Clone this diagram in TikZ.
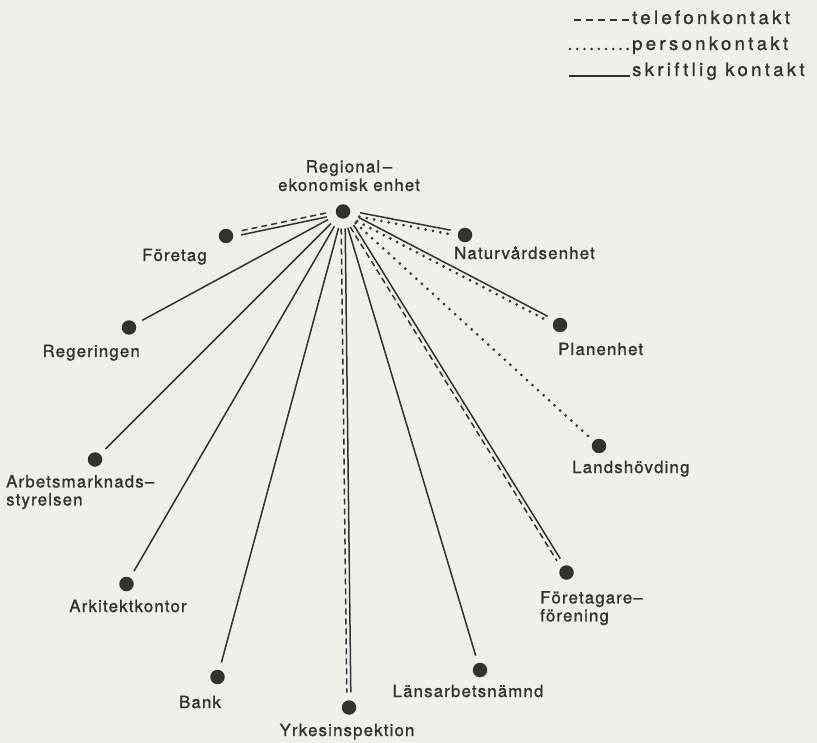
\documentclass[tikz,border=0pt]{standalone}
\usepackage{fontspec}
\setmainfont{TeX Gyre Heros}
\newfontfamily\lblfont[LetterSpace=7, FakeBold=1.2]{TeX Gyre Heros}
\newfontfamily\legfont[LetterSpace=18, FakeBold=1.2]{TeX Gyre Heros}
\usetikzlibrary{calc}

\definecolor{paper}{RGB}{240,240,232}
\definecolor{ink}{RGB}{50,50,50}

\tikzset{
  dot/.style={circle, fill=ink, minimum size=14.5pt, inner sep=0pt},
  lab/.style={font=\lblfont\fontsize{16.8}{18.5}\selectfont, text=ink, inner sep=0pt},
  leg/.style={font=\legfont\fontsize{18.5}{20}\selectfont, text=ink, inner sep=0pt, anchor=base west},
  link/.style={shorten <=17pt, shorten >=15pt},
  solidline/.style={link, draw=ink, line width=1.5pt},
  dashline/.style={link, draw=ink, line width=1.5pt, dash pattern=on 6pt off 4pt},
  dotline/.style={link, draw=ink, line width=3pt, line cap=round, dash pattern=on 0pt off 7.5pt},
  % straight connector shifted sideways by #1, parallel to the centre line
  off/.style={to path={
    ($(\tikztostart)!#1!90:(\tikztotarget)$) -- ($(\tikztotarget)!#1!-90:(\tikztostart)$)}}
}

\begin{document}
\begin{tikzpicture}[x=1pt, y=-1pt]
  \fill[paper] (0,0) rectangle (817,743);
  \useasboundingbox (0,0) rectangle (817,743);

  % legend
  \coordinate (t1) at (574,20);  \coordinate (t2) at (629,20);
  \coordinate (p1) at (570,49);  \coordinate (p2) at (628,49);
  \coordinate (s1) at (569,76);  \coordinate (s2) at (630,76);
  \draw[ink, line width=1.8pt, dash pattern=on 7pt off 5pt] (t1) -- (t2);
  \draw[ink, line width=2.8pt, line cap=round, dash pattern=on 0pt off 7.2pt] (p1) -- (p2);
  \draw[ink, line width=1.5pt] (s1) -- (s2);
  \node[leg] (lt) at (632,24) {telefonkontakt};
  \node[leg] (lp) at (632,50) {personkontakt};
  \node[leg] (ls) at (632,76) {skriftlig kontakt};

  % units
  \node[dot] (c)  at (343,211.5) {};
  \node[dot] (fo) at (226,236) {};
  \node[dot] (re) at (129,327.5) {};
  \node[dot] (am) at (95,459.5) {};
  \node[dot] (ak) at (126.5,584) {};
  \node[dot] (ba) at (217.5,677) {};
  \node[dot] (yr) at (349,707.5) {};
  \node[dot] (la) at (480,670) {};
  \node[dot] (ff) at (566.5,572.5) {};
  \node[dot] (lh) at (599,446) {};
  \node[dot] (pl) at (560,325) {};
  \node[dot] (na) at (465,235) {};

  % labels
  \node[lab, anchor=north, align=center] (cl) at (349,160) {Regional\,–\\ekonomisk enhet};
  \node[lab, anchor=base] (fol) at (174.5,261) {Företag};
  \node[lab, anchor=base east] (rel) at (140,357) {Regeringen};
  \node[lab, anchor=north west, align=left, font=\lblfont\fontsize{16.8}{18}\selectfont] (aml) at (6,475) {Arbetsmarknads–\\styrelsen};
  \node[lab, anchor=base] (akl) at (128,612) {Arkitektkontor};
  \node[lab, anchor=base] (bal) at (200,708) {Bank};
  \node[lab, anchor=base] (yrl) at (347,736) {Yrkesinspektion};
  \node[lab, anchor=base] (lal) at (468,697) {Länsarbetsnämnd};
  \node[lab, anchor=north west, align=left, font=\lblfont\fontsize{16.8}{18}\selectfont] (ffl) at (540,591) {Företagare–\\förening};
  \node[lab, anchor=base west] (lhl) at (572,473) {Landshövding};
  \node[lab, anchor=base west] (pll) at (558,355) {Planenhet};
  \node[lab, anchor=base west] (nal) at (454,259) {Naturvårdsenhet};

  % contacts
  \draw[solidline] (c) to[off=2pt]  (fo);
  \draw[dashline]  (c) to[off=-2pt] (fo);
  \draw[solidline] (c) to[off=0pt]  (re);
  \draw[solidline] (c) to[off=0pt]  (am);
  \draw[solidline] (c) to[off=0pt]  (ak);
  \draw[solidline] (c) to[off=0pt]  (ba);
  \draw[solidline] (c) to[off=2pt]  (yr);
  \draw[dashline]  (c) to[off=-2pt] (yr);
  \draw[solidline] (c) to[off=0pt]  (la);
  \draw[solidline] (c) to[off=2pt]  (ff);
  \draw[dashline]  (c) to[off=-2pt] (ff);
  \draw[dotline]   (c) to[off=0pt]  (lh);
  \draw[solidline] (c) to[off=2pt]  (pl);
  \draw[dotline]   (c) to[off=-2pt] (pl);
  \draw[solidline] (c) to[off=2pt]  (na);
  \draw[dotline]   (c) to[off=-2pt] (na);
\end{tikzpicture}
\end{document}
